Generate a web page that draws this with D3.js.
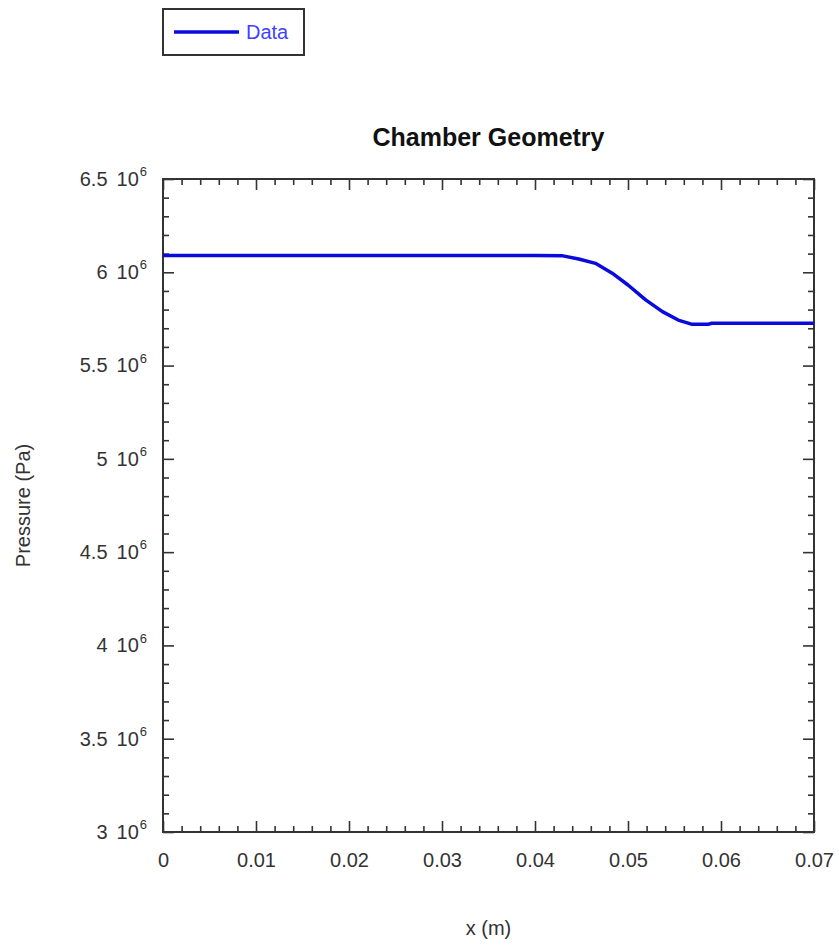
<!DOCTYPE html>
<html>
<head>
<meta charset="utf-8">
<script src="https://cdn.jsdelivr.net/npm/d3@7"></script>
<style>
  body { margin: 0; background: #fff; }
  text { font-family: "Liberation Sans", Arial, sans-serif; }
</style>
</head>
<body>
<div id="chart"></div>
<script>
// position along chamber (m) and pressure (Pa)
const xVals = [0, 0.0100, 0.0200, 0.0300, 0.0400, 0.0430, 0.0447, 0.0465, 0.0483, 0.0500,
               0.0519, 0.0537, 0.0554, 0.0569, 0.0586, 0.0590, 0.0650, 0.0700];
const pVals = [6.090e6, 6.090e6, 6.090e6, 6.090e6, 6.090e6, 6.088e6, 6.071e6, 6.048e6, 5.995e6, 5.932e6,
               5.852e6, 5.789e6, 5.744e6, 5.721e6, 5.721e6, 5.727e6, 5.727e6, 5.727e6];
const xMajor = [0, 0.01, 0.02, 0.03, 0.04, 0.05, 0.06, 0.07];
const xLabels = ["0", "0.01", "0.02", "0.03", "0.04", "0.05", "0.06", "0.07"];
const yMajor = [3e6, 3.5e6, 4e6, 4.5e6, 5e6, 5.5e6, 6e6, 6.5e6];
const yLabels = ["3", "3.5", "4", "4.5", "5", "5.5", "6", "6.5"];
const seriesName = "Data";

const data = xVals.map((x, i) => ({ x: x, p: pVals[i] }));

const W = 839, H = 946;
const margin = { top: 179, right: 25, bottom: 114, left: 163 };
const width = W - margin.left - margin.right;
const height = H - margin.top - margin.bottom;
const axisColor = "#333";

const svg = d3.select("#chart")
  .append("svg")
  .attr("width", W)
  .attr("height", H);

const g = svg.append("g")
  .attr("transform", `translate(${margin.left},${margin.top})`);

const x = d3.scaleLinear().domain([0, 0.07]).range([0, width]);
const y = d3.scaleLinear().domain([3e6, 6.5e6]).range([height, 0]);

const xMinor = d3.range(0, 0.0701, 0.002).filter(v => !xMajor.some(m => Math.abs(m - v) < 1e-9));
const yMinor = d3.range(3e6, 6.5e6 + 1, 1e5).filter(v => !yMajor.some(m => Math.abs(m - v) < 1));

function styleAxis(sel) {
  sel.select(".domain").remove();
  sel.selectAll("line").attr("stroke", axisColor).attr("stroke-width", 1.6);
}

// minor ticks on all four sides
g.append("g").attr("transform", `translate(0,${height})`)
  .call(d3.axisBottom(x).tickValues(xMinor).tickSize(-6).tickFormat("")).call(styleAxis);
g.append("g")
  .call(d3.axisTop(x).tickValues(xMinor).tickSize(-6).tickFormat("")).call(styleAxis);
g.append("g")
  .call(d3.axisLeft(y).tickValues(yMinor).tickSize(-6).tickFormat("")).call(styleAxis);
g.append("g").attr("transform", `translate(${width},0)`)
  .call(d3.axisRight(y).tickValues(yMinor).tickSize(-6).tickFormat("")).call(styleAxis);

// major ticks
const xAxis = g.append("g").attr("transform", `translate(0,${height})`)
  .call(d3.axisBottom(x).tickValues(xMajor).tickSize(-11).tickPadding(21)
    .tickFormat((d, i) => xLabels[i]));
xAxis.call(styleAxis);
xAxis.selectAll("text").attr("font-size", 20).attr("fill", axisColor)
  .attr("font-family", "Liberation Sans, Arial, sans-serif");

g.append("g")
  .call(d3.axisTop(x).tickValues(xMajor).tickSize(-11).tickFormat("")).call(styleAxis);
g.append("g").attr("transform", `translate(${width},0)`)
  .call(d3.axisRight(y).tickValues(yMajor).tickSize(-11).tickFormat("")).call(styleAxis);

const yAxis = g.append("g")
  .call(d3.axisLeft(y).tickValues(yMajor).tickSize(-11).tickPadding(16).tickFormat(""));
yAxis.call(styleAxis);
yAxis.selectAll(".tick text")
  .attr("font-size", 20).attr("fill", axisColor)
  .attr("font-family", "Liberation Sans, Arial, sans-serif")
  .each(function(d, i) {
    const t = d3.select(this).text(null);
    t.append("tspan").text(yLabels[i]);
    t.append("tspan").attr("dx", 9).text("10");
    t.append("tspan").attr("font-size", 13).attr("dy", "-0.75em").attr("dx", 1).text("6");
  });

// frame
g.append("rect")
  .attr("width", width).attr("height", height)
  .attr("fill", "none").attr("stroke", axisColor).attr("stroke-width", 2);

// data line
const line = d3.line()
  .x(d => x(d.x))
  .y(d => y(d.p));

g.append("path")
  .datum(data)
  .attr("fill", "none")
  .attr("stroke", "#0a0adc")
  .attr("stroke-width", 3.5)
  .attr("stroke-linejoin", "round")
  .attr("d", line);

// title
svg.append("text")
  .attr("x", margin.left + width / 2)
  .attr("y", 146)
  .attr("text-anchor", "middle")
  .attr("font-size", 25)
  .attr("font-weight", "bold")
  .attr("fill", "#111")
  .text("Chamber Geometry");

// axis titles
svg.append("text")
  .attr("x", margin.left + width / 2)
  .attr("y", 935)
  .attr("text-anchor", "middle")
  .attr("font-size", 20)
  .attr("fill", axisColor)
  .text("x (m)");

svg.append("text")
  .attr("transform", `translate(30,${margin.top + height / 2}) rotate(-90)`)
  .attr("text-anchor", "middle")
  .attr("font-size", 20)
  .attr("fill", axisColor)
  .text("Pressure (Pa)");

// legend
const legend = svg.append("g");
legend.append("rect")
  .attr("x", 163).attr("y", 9).attr("width", 141).attr("height", 46)
  .attr("fill", "#fff").attr("stroke", "#333").attr("stroke-width", 2);
legend.append("line")
  .attr("x1", 174).attr("x2", 239).attr("y1", 32).attr("y2", 32)
  .attr("stroke", "#0a0adc").attr("stroke-width", 3.5);
legend.append("text")
  .attr("x", 246).attr("y", 39)
  .attr("font-size", 20)
  .attr("fill", "#3f3fff")
  .text(seriesName);
</script>
</body>
</html>
